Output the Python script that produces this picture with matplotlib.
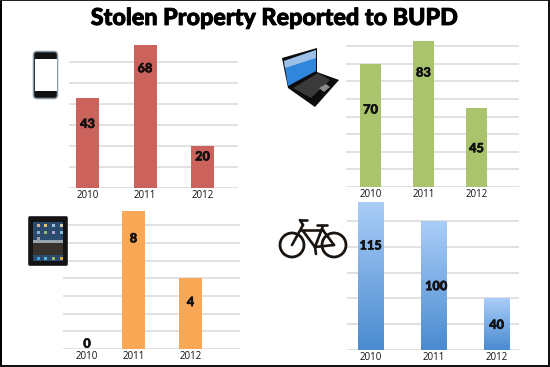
import numpy as np
import matplotlib
matplotlib.use('Agg')
import matplotlib.pyplot as plt
import matplotlib.patheffects as pe
from matplotlib.colors import LinearSegmentedColormap
from matplotlib.patches import Circle, FancyBboxPatch, Polygon, Rectangle

plt.rcParams['font.family'] = ['Open Sans', 'DejaVu Sans']

W, H = 550, 367

years = ['2010', '2011', '2012']

iphone_values = [43, 68, 20]
laptop_values = [70, 83, 45]
# the 2011 bar is drawn a bit short of 8 in the picture
ipad_heights = [0, 7.8, 4]
ipad_labels = ['0', '8', '4']
bike_values = [115, 100, 40]

# layout in pixels of the picture
def make_axes(fig, x0, x1, baseline, px_per_unit, pos0, spacing, grid_step, grid_max):
    top = 30
    ax = fig.add_axes([x0 / W, 1 - baseline / H, (x1 - x0) / W, (baseline - top) / H])
    ax.patch.set_alpha(0)
    ax.set_xlim((x0 - pos0) / spacing, (x1 - pos0) / spacing)
    ax.set_ylim(0, (baseline - top) / px_per_unit)
    for s in ax.spines.values():
        s.set_visible(False)
    ax.set_yticks(np.arange(0, grid_max + grid_step, grid_step))
    ax.set_yticklabels([])
    ax.tick_params(length=0, pad=1.5)
    ax.grid(axis='y', color='#d8d8d8', lw=1.1)
    ax.set_axisbelow(True)
    return ax


def draw_panel(ax, values, labels, label_y, color, width, label_x=None, tick_x=(0, 1, 2)):
    ax.set_xticks(list(tick_x))
    ax.set_xticklabels(years, fontsize=7.0, color='#111111')
    bars = ax.bar([0, 1, 2], values, width=width, color=color, zorder=3)
    if label_x is None:
        label_x = [0, 1, 2]
    for x, y, t in zip(label_x, label_y, labels):
        ax.text(x, y, t, ha='center', va='center', fontsize=9.2, fontweight='black',
                family=['Lato', 'DejaVu Sans'], color='#111111', zorder=5,
                path_effects=[pe.withStroke(linewidth=0.4, foreground='#111111')])
    return bars


fig = plt.figure(figsize=(W / 100, H / 100), dpi=100, facecolor='white')

# iphone
ax1 = make_axes(fig, 69, 238, 188, 2.1, 87.5, 57.5, 10, 60)
draw_panel(ax1, iphone_values, iphone_values, [30.5, 57, 15], '#cb625c', 0.4)

# laptop
ax2 = make_axes(fig, 346, 519, 187, 1.76, 370.5, 53, 10, 80)
draw_panel(ax2, laptop_values, laptop_values, [44, 65, 22], '#a9c46c', 0.4)

# ipad
ax3 = make_axes(fig, 63, 240, 349, 17.7, 76.5, 57, 1, 7)
draw_panel(ax3, ipad_heights, ipad_labels, [0.3, 6.25, 2.65], '#fba856', 0.4,
           label_x=[0.184, 1, 2], tick_x=(0.184, 1, 2))

# bike, bars get a gradient
ax4 = make_axes(fig, 347, 519, 350, 1.29, 370.75, 62.9, 20, 100)
bars = draw_panel(ax4, bike_values, bike_values, [81, 49.5, 19.5], '#7aaee8', 0.405,
                  label_x=[0, 1.04, 2])
blues = LinearSegmentedColormap.from_list('blues', ['#aacdf8', '#4a8bd0'])
xl, yl = ax4.get_xlim(), ax4.get_ylim()
for b in bars:
    im = ax4.imshow(np.linspace(0, 1, 64).reshape(-1, 1), cmap=blues, aspect='auto', zorder=4,
                    extent=(b.get_x(), b.get_x() + b.get_width(), 0, b.get_height()), origin='upper')
    im.set_clip_path(b)
ax4.set_xlim(xl)
ax4.set_ylim(yl)

# overlay for the title, border and icons, in pixels
ov = fig.add_axes([0, 0, 1, 1], zorder=10)
ov.set_xlim(0, W)
ov.set_ylim(H, 0)
ov.axis('off')
ov.patch.set_alpha(0)

ov.text(275, 25, 'Stolen Property Reported to BUPD', ha='center', va='baseline',
        fontsize=16.8, fontweight='black', family=['Lato', 'DejaVu Sans'], color='black',
        path_effects=[pe.withStroke(linewidth=0.6, foreground='black')])

ov.add_patch(Rectangle((0, 0), 2.2, H, color='black', lw=0))
ov.add_patch(Rectangle((0, 0), W, 1.4, color='#222222', lw=0))
ov.add_patch(Rectangle((547.5, 0), 2.5, H, color='#111111', lw=0))
ov.add_patch(Rectangle((0, 365), W, 2, color='#111111', lw=0))

# phone
ov.add_patch(FancyBboxPatch((33.5, 51.5), 24, 47, boxstyle='round,pad=0,rounding_size=3.5',
                            fc='#111111', ec='#8f9aa3', lw=1.1))
ov.add_patch(Rectangle((34.5, 59), 22, 32, color='white', lw=0))

# laptop
ov.add_patch(Polygon([(283, 62), (288, 90), (285, 72)], color='#888888', alpha=0.5, lw=0))
ov.add_patch(Polygon([(282, 58), (317, 48), (317, 72), (339, 80), (315, 107), (288, 88)],
                     color='#0c0c0c', lw=0))
ov.add_patch(Polygon([(284, 61), (316, 50), (316, 71), (288, 86)], color='#2f86dc', lw=0))
ov.add_patch(Polygon([(284, 61), (316, 50), (316, 58), (285, 68)], color='#9cc0e6', lw=0))
ov.add_patch(Polygon([(293, 88), (318, 73), (330, 80), (311, 98)], color='#3a3a3a', lw=0))
ov.add_patch(Polygon([(319, 88), (326, 84), (330, 87), (324, 92)], color='#8c8c8c', lw=0))

# tablet
ov.add_patch(FancyBboxPatch((28.5, 216.5), 39, 49, boxstyle='round,pad=0,rounding_size=1.5',
                            fc='#141414', ec='#333333', lw=0.6))
ov.add_patch(Rectangle((33, 222), 30, 39, color='#2a4a6e', lw=0))
ov.add_patch(Rectangle((33, 240), 30, 3, color='#9aa6ae', lw=0))
ov.add_patch(Rectangle((33, 243), 30, 12, color='#37332c', lw=0))
icon_cols = ['#d8b09c', '#e9c25f', '#9fc0d9', '#d9d0b8', '#7fb0e0', '#9cb87f', '#b89fd4', '#7fc0d0']
for i, c in enumerate(icon_cols):
    ov.add_patch(Rectangle((36.5 + (i % 4) * 7.7, 224 + (i // 4) * 6.7), 3, 3, color=c, lw=0))
ov.add_patch(Rectangle((36.5, 237), 3, 3, color='#9f9aaa', lw=0))
for i, c in enumerate(['#35a5d8', '#55b8e0', '#9ab85a', '#e0a530']):
    ov.add_patch(Rectangle((36.5 + i * 7.7, 257), 3, 3, color=c, lw=0))

# bike
k = '#1a1410'
ov.add_patch(Circle((292, 245), 12, fc='none', ec=k, lw=2.0))
ov.add_patch(Circle((334, 245), 12, fc='none', ec=k, lw=2.0))
for (xa, ya), (xb, yb) in [((303, 225), (292, 245)), ((301, 230), (323, 230)), ((303, 231), (315, 247)),
                           ((323, 226), (315, 247)), ((315, 247), (334, 245)), ((322, 229), (334, 245)),
                           ((303, 225), (300, 220)), ((300, 220), (307, 220)), ((317, 225), (327, 225)),
                           ((315, 247), (316, 254))]:
    ov.plot([xa, xb], [ya, yb], color=k, lw=1.9, solid_capstyle='round')

fig.savefig('out.png', dpi=100)
